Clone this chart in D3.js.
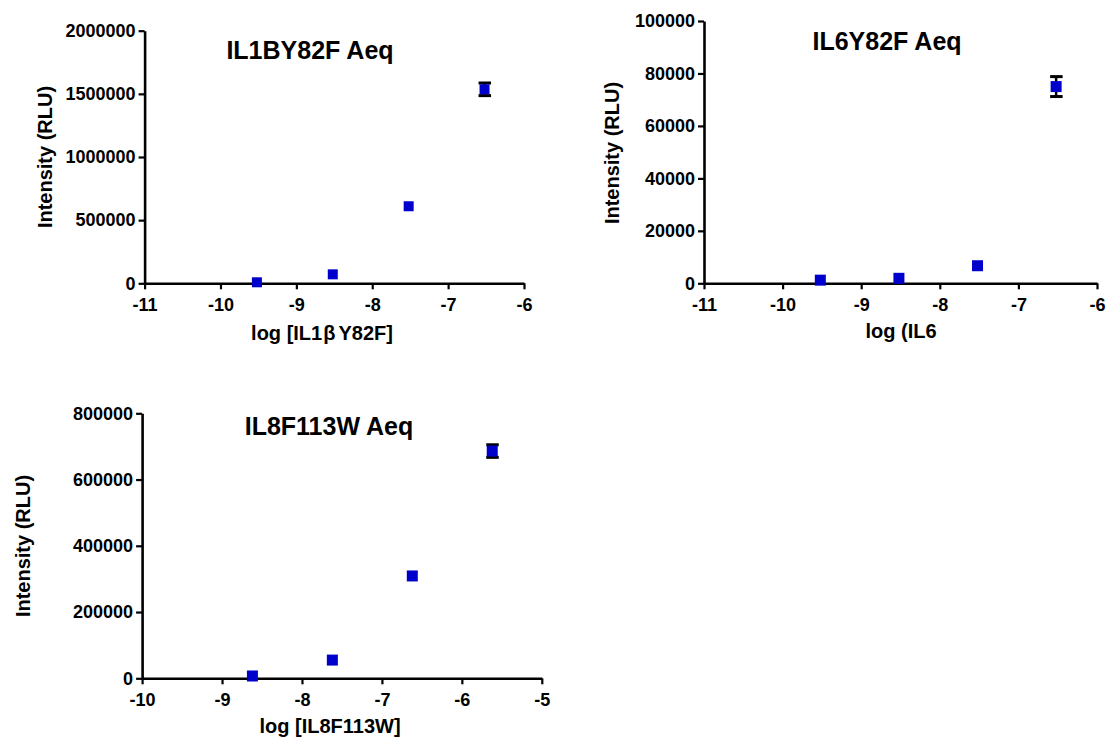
<!DOCTYPE html>
<html>
<head>
<meta charset="utf-8">
<script src="https://cdn.jsdelivr.net/npm/d3@7"></script>
<style>
  html, body { margin: 0; padding: 0; background: #fff; }
  svg { display: block; }
  text { font-family: Arial, "Liberation Sans", Helvetica, sans-serif; font-weight: bold; fill: #000; }
</style>
</head>
<body>
<svg id="chart" width="1112" height="742"></svg>
<script>
// ---- Data ----
const il1bX = [-9.52, -8.52, -7.52, -6.52];
const il1bY = [8000, 71000, 610000, 1536000];
const il1bErr = [0, 0, 0, 50000];
const il1bXTicks = [-11, -10, -9, -8, -7, -6];
const il1bYTicks = [0, 500000, 1000000, 1500000, 2000000];

const il6X = [-9.52, -8.52, -7.52, -6.52];
const il6Y = [1200, 1900, 6700, 75000];
const il6Err = [0, 0, 0, 3800];
const il6XTicks = [-11, -10, -9, -8, -7, -6];
const il6YTicks = [0, 20000, 40000, 60000, 80000, 100000];

const il8X = [-8.62, -7.62, -6.62, -5.62];
const il8Y = [7000, 55000, 309000, 686000];
const il8Err = [0, 0, 0, 19000];
const il8XTicks = [-10, -9, -8, -7, -6, -5];
const il8YTicks = [0, 200000, 400000, 600000, 800000];

const titles = ["IL1BY82F Aeq", "IL6Y82F Aeq", "IL8F113W Aeq"];
const yTitle = "Intensity (RLU)";

// ---- Layout ----
const svg = d3.select("#chart");
const blue = "#0000cc";

const panels = [
  { x: il1bX, y: il1bY, err: il1bErr, xt: il1bXTicks, yt: il1bYTicks,
    xr: [144.6, 524], yr: [283.3, 30.7], size: 10, title: titles[0],
    titlePos: [310, 59], yTitlePos: [52, 157], xTitlePos: [322, 340], xTitle: "il1" },
  { x: il6X, y: il6Y, err: il6Err, xt: il6XTicks, yt: il6YTicks,
    xr: [704, 1097], yr: [283.3, 21], size: 11, title: titles[1],
    titlePos: [887, 50], yTitlePos: [619, 153], xTitlePos: [901, 338], xTitle: "il6" },
  { x: il8X, y: il8Y, err: il8Err, xt: il8XTicks, yt: il8YTicks,
    xr: [142.1, 541.8], yr: [678.3, 413.3], size: 11, title: titles[2],
    titlePos: [329, 435], yTitlePos: [30, 546], xTitlePos: [330, 733], xTitle: "il8" }
];

panels.forEach(p => {
  const xs = d3.scaleLinear().domain([p.xt[0], p.xt[p.xt.length - 1]]).range(p.xr);
  const ys = d3.scaleLinear().domain([p.yt[0], p.yt[p.yt.length - 1]]).range(p.yr);
  const g = svg.append("g");

  const xAxis = g.append("g")
    .attr("transform", `translate(0,${p.yr[0]})`)
    .call(d3.axisBottom(xs).tickValues(p.xt).tickFormat(d3.format("d")).tickSize(6).tickPadding(8.5).tickSizeOuter(0));
  const yAxis = g.append("g")
    .attr("transform", `translate(${p.xr[0]},0)`)
    .call(d3.axisLeft(ys).tickValues(p.yt).tickFormat(d3.format("d")).tickSize(6).tickPadding(3).tickSizeOuter(0));

  [xAxis, yAxis].forEach(a => {
    a.select(".domain").attr("stroke", "#000").attr("stroke-width", 2.6);
    a.selectAll(".tick line").attr("stroke", "#000").attr("stroke-width", 2.2);
    a.selectAll(".tick text").style("font-size", "18px").attr("fill", "#000");
    a.attr("font-family", null).attr("font-size", null);
  });
  xAxis.selectAll(".tick text").text(d => String(d).replace("\u2212", "-"));

  // Error bars
  const pts = p.x.map((xv, i) => ({ x: xv, y: p.y[i], e: p.err[i] }));
  const eb = g.append("g");
  pts.filter(d => d.e > 0).forEach(d => {
    const cx = xs(d.x), y1 = ys(d.y + d.e), y2 = ys(d.y - d.e);
    eb.append("line").attr("x1", cx).attr("x2", cx).attr("y1", y1).attr("y2", y2)
      .attr("stroke", "#000").attr("stroke-width", 2.5);
    [y1, y2].forEach(yy => eb.append("line")
      .attr("x1", cx - 6).attr("x2", cx + 6.5).attr("y1", yy).attr("y2", yy)
      .attr("stroke", "#000").attr("stroke-width", 3));
  });

  // Markers
  g.append("g").selectAll("rect").data(pts).join("rect")
    .attr("x", d => xs(d.x) - p.size / 2)
    .attr("y", d => ys(d.y) - p.size / 2)
    .attr("width", p.size).attr("height", p.size)
    .attr("fill", blue);

  // Titles
  g.append("text").attr("x", p.titlePos[0]).attr("y", p.titlePos[1])
    .attr("text-anchor", "middle").style("font-size", "25px").text(p.title);

  g.append("text")
    .attr("transform", `translate(${p.yTitlePos[0]},${p.yTitlePos[1]}) rotate(-90)`)
    .attr("text-anchor", "middle").style("font-size", "20px").text(yTitle);

  const xt = g.append("text").attr("x", p.xTitlePos[0]).attr("y", p.xTitlePos[1])
    .attr("text-anchor", "middle").style("font-size", "20px");
  if (p.xTitle === "il1") {
    xt.append("tspan").text("log [IL1");
    xt.append("tspan").attr("dx", 1).text("\u03B2");
    xt.append("tspan").attr("dx", 3).text("Y82F]");
  } else if (p.xTitle === "il6") {
    xt.text("log (IL6");
  } else {
    xt.text("log [IL8F113W]");
  }
});
</script>
</body>
</html>
